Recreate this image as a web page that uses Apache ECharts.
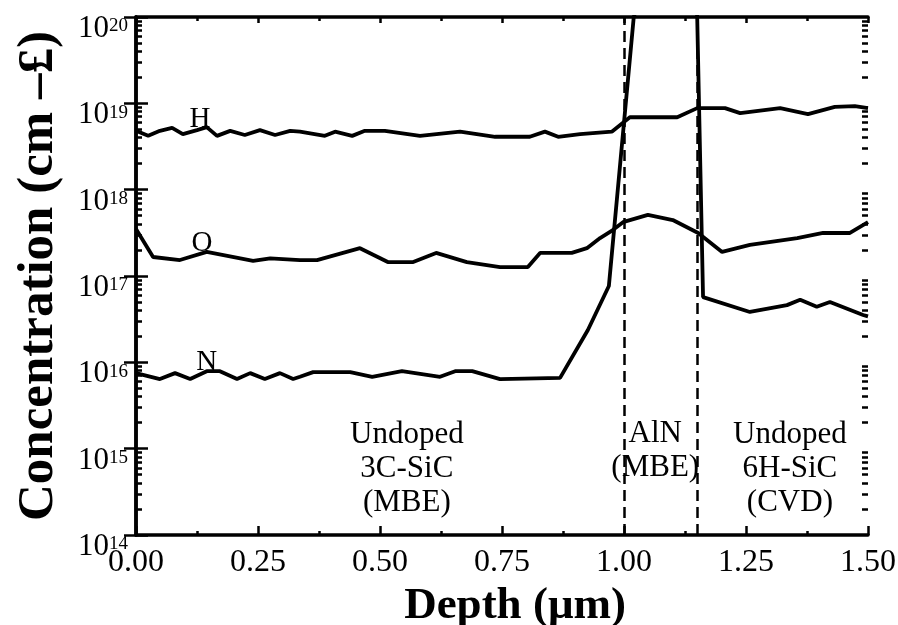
<!DOCTYPE html>
<html>
<head>
<meta charset="utf-8">
<script src="https://cdn.jsdelivr.net/npm/echarts@6/dist/echarts.min.js"></script>
<style>
html, body { margin: 0; padding: 0; background: #fff; }
#chart { width: 898px; height: 625px; }
</style>
</head>
<body>
<div id="chart"></div>
<script>
// depth in um, concentration in cm^-3
var hDepth = [0, 0.025, 0.049, 0.074, 0.096, 0.125, 0.145, 0.166, 0.193, 0.223, 0.254, 0.285, 0.316, 0.336, 0.387,
  0.408, 0.443, 0.469, 0.51, 0.582, 0.664, 0.736, 0.807, 0.838, 0.865, 0.91, 0.975, 1.012, 1.109, 1.15,
  1.207, 1.238, 1.32, 1.377, 1.432, 1.473, 1.5]
var hConc = [4.8e18, 4.2e18, 4.8e18, 5.2e18, 4.4e18, 4.9e18, 5.3e18, 4.2e18, 4.8e18, 4.3e18, 4.9e18, 4.3e18, 4.8e18, 4.7e18, 4.2e18,
  4.7e18, 4.2e18, 4.8e18, 4.8e18, 4.2e18, 4.7e18, 4.1e18, 4.1e18, 4.7e18, 4.1e18, 4.4e18, 4.7e18, 6.9e18, 6.9e18, 8.8e18,
  8.8e18, 7.7e18, 8.8e18, 7.5e18, 9.1e18, 9.3e18, 8.8e18]

var oDepth = [0, 0.035, 0.09, 0.145, 0.24, 0.275, 0.336, 0.371, 0.459, 0.516, 0.568, 0.615, 0.678, 0.746, 0.803,
  0.828, 0.893, 0.924, 0.951, 0.977, 0.998, 1.049, 1.1, 1.152, 1.201, 1.258, 1.355, 1.408, 1.463, 1.5]
var oConc = [3.5e17, 1.66e17, 1.53e17, 1.9e17, 1.5e17, 1.6e17, 1.53e17, 1.53e17, 2.1e17, 1.45e17, 1.45e17, 1.85e17, 1.45e17, 1.27e17, 1.27e17,
  1.85e17, 1.85e17, 2.1e17, 2.75e17, 3.4e17, 4.2e17, 5.1e17, 4.45e17, 3.15e17, 1.9e17, 2.29e17, 2.75e17, 3.15e17, 3.15e17, 4.2e17]

var nDepth = [0, 0.049, 0.08, 0.111, 0.145, 0.172, 0.207, 0.234, 0.264, 0.295, 0.322, 0.336, 0.363, 0.439, 0.484,
  0.545, 0.623, 0.654, 0.689, 0.746, 0.869, 0.926, 0.969, 1.02, 1.08, 1.14, 1.15, 1.162, 1.258, 1.334,
  1.361, 1.395, 1.422, 1.49, 1.5]
var nConc = [7.5e15, 6.4e15, 7.5e15, 6.4e15, 7.9e15, 7.9e15, 6.4e15, 7.5e15, 6.4e15, 7.5e15, 6.4e15, 6.8e15, 7.7e15, 7.7e15, 6.8e15,
  7.9e15, 6.8e15, 7.9e15, 7.9e15, 6.4e15, 6.6e15, 2.37e16, 7.65e16, 1e20, 1e21, 1e21, 1e20, 5.7e16, 3.83e16, 4.6e16,
  5.3e16, 4.4e16, 5.0e16, 3.53e16, 3.4e16]

var interfaces = [1.0, 1.148]

var speciesNames = ['H', 'O', 'N']
var speciesLabelDepth = [0.131, 0.135, 0.145]
var speciesLabelConc = [6.6e18, 2.4e17, 1.0e16]

var regionNames = ['Undoped\n3C-SiC\n(MBE)', 'AlN\n(MBE)', 'Undoped\n6H-SiC\n(CVD)']
var regionDepth = [0.555, 1.064, 1.34]
var regionConc = [5.8e14, 9.4e14, 5.8e14]

var font = "'Liberation Serif', 'Times New Roman', serif"

function zip(xs, ys) {
  return xs.map(function (x, i) { return [x, ys[i]] })
}

// minor ticks 2..9 of every decade, in log10 space
var minorLogs = []
for (var d = 14; d < 20; d++) {
  for (var k = 2; k <= 9; k++) minorLogs.push(d + Math.log10(k))
}

var axisLine = { show: true, lineStyle: { color: '#000', width: 3.5 } }
var tickStyle = { color: '#000', width: 2.5 }

var chart = echarts.init(document.getElementById('chart'))
var option = {
  animation: false,
  backgroundColor: '#fff',
  grid: { left: 136, right: 30, top: 17, bottom: 90, outerBoundsMode: 'none' },
  xAxis: [
    {
      type: 'value', min: 0, max: 1.5, interval: 0.25, position: 'bottom',
      axisLine: axisLine,
      axisTick: { inside: true, length: 9, lineStyle: tickStyle },
      minorTick: { show: true, splitNumber: 2, length: 4, lineStyle: tickStyle },
      splitLine: { show: false },
      axisLabel: {
        color: '#000', fontFamily: font, fontSize: 32, margin: 12,
        formatter: function (v) { return v.toFixed(2) }
      },
      name: 'Depth (μm)', nameLocation: 'middle', nameGap: 34,
      nameTextStyle: { color: '#000', fontFamily: font, fontSize: 45, fontWeight: 'bold', padding: [0, 0, 0, 26] }
    },
    {
      type: 'value', min: 0, max: 1.5, interval: 0.25, position: 'top',
      axisLine: axisLine,
      axisTick: { inside: true, length: 6, lineStyle: tickStyle },
      minorTick: { show: true, splitNumber: 2, length: 4, lineStyle: tickStyle },
      splitLine: { show: false },
      axisLabel: { show: false }
    }
  ],
  yAxis: [
    {
      type: 'log', logBase: 10, min: 1e14, max: 1e20, position: 'left',
      axisLine: axisLine,
      axisTick: { inside: true, length: 12, lineStyle: tickStyle },
      splitLine: { show: false },
      axisLabel: {
        margin: 8, verticalAlign: 'top',
        formatter: function (v) {
          return '{b|10}{s|' + Math.round(Math.log10(v)) + '}'
        },
        rich: {
          b: { color: '#000', fontFamily: font, fontSize: 31, lineHeight: 24 },
          s: { color: '#000', fontFamily: font, fontSize: 19, lineHeight: 6, verticalAlign: 'top' }
        }
      },
      name: 'Concentration (cm –£)', nameLocation: 'middle', nameRotate: 90, nameGap: 72,
      nameTextStyle: { color: '#000', fontFamily: font, fontSize: 51, fontWeight: 'bold' }
    },
    {
      type: 'log', logBase: 10, min: 1e14, max: 1e20, position: 'right',
      axisLine: axisLine,
      axisTick: { inside: true, length: 12, lineStyle: tickStyle },
      splitLine: { show: false },
      axisLabel: { show: false }
    },
    {
      type: 'value', min: 14, max: 20, position: 'left',
      axisLine: { show: false },
      axisTick: { inside: true, length: 6, lineStyle: tickStyle, customValues: minorLogs },
      splitLine: { show: false },
      axisLabel: { show: false }
    },
    {
      type: 'value', min: 14, max: 20, position: 'right',
      axisLine: { show: false },
      axisTick: { inside: true, length: 6, lineStyle: tickStyle, customValues: minorLogs },
      splitLine: { show: false },
      axisLabel: { show: false }
    }
  ],
  series: [
    {
      name: 'H', type: 'line', symbol: 'none', clip: true,
      lineStyle: { color: '#000', width: 3.8 },
      data: zip(hDepth, hConc),
      markLine: {
        silent: true, symbol: 'none', label: { show: false },
        lineStyle: { color: '#000', width: 2.5, type: [11, 6] },
        data: interfaces.map(function (x) { return { xAxis: x } })
      }
    },
    {
      name: 'O', type: 'line', symbol: 'none', clip: true,
      lineStyle: { color: '#000', width: 3.8 },
      data: zip(oDepth, oConc)
    },
    {
      name: 'N', type: 'line', symbol: 'none', clip: true,
      lineStyle: { color: '#000', width: 3.8 },
      data: zip(nDepth, nConc)
    },
    {
      type: 'scatter', symbolSize: 0, silent: true,
      itemStyle: { opacity: 1 },
      data: speciesNames.map(function (t, i) { return [speciesLabelDepth[i], speciesLabelConc[i], t] }),
      label: {
        show: true, position: 'inside', color: '#000', opacity: 1, textBorderWidth: 0, fontFamily: font, fontSize: 29,
        formatter: function (p) { return p.data[2] }
      }
    },
    {
      type: 'scatter', symbolSize: 0, silent: true,
      itemStyle: { opacity: 1 },
      data: regionNames.map(function (t, i) { return [regionDepth[i], regionConc[i], t] }),
      label: {
        show: true, position: 'inside', color: '#000', opacity: 1, textBorderWidth: 0, fontFamily: font, fontSize: 31, lineHeight: 34,
        formatter: function (p) { return p.data[2] }
      }
    }
  ]
}
chart.setOption(option)
</script>
</body>
</html>
